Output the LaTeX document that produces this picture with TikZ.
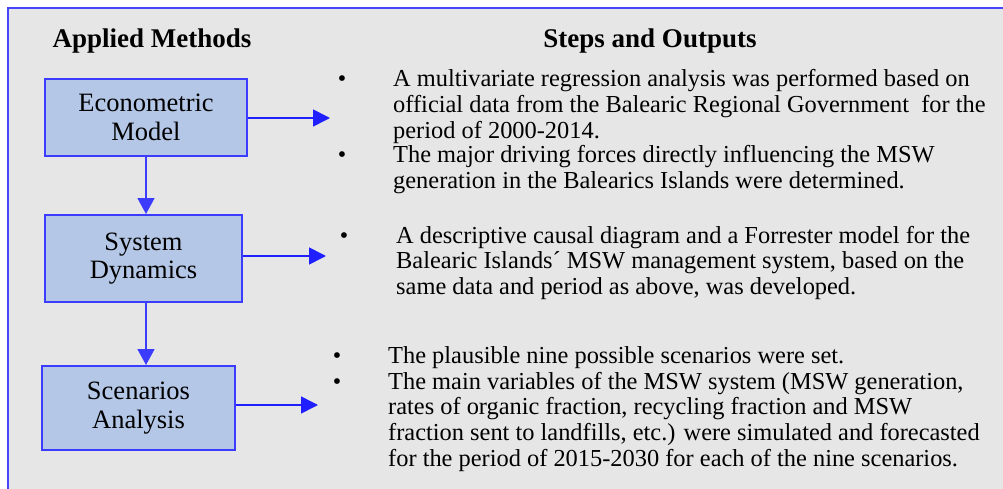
\documentclass[tikz,border=0pt]{standalone}
\usepackage{fontspec}
\setmainfont{Liberation Serif}
\usetikzlibrary{arrows.meta}
\definecolor{bggray}{HTML}{E6E6E6}
\definecolor{boxfill}{HTML}{B4C7E7}
\definecolor{boxline}{HTML}{3C3CFF}
\definecolor{arrblue}{HTML}{1F1FFF}
\definecolor{frameblue}{HTML}{4646FF}
\tikzset{
  methodbox/.style={draw=boxline, line width=2pt, fill=boxfill, align=center,
    font=\fontsize{26.5}{28.5}\selectfont, inner sep=0pt},
  flowarrow/.style={draw=arrblue, line width=1.6pt, -{Triangle[length=17pt,width=17pt]}},
  downarrow/.style={draw=boxline, line width=1.6pt, -{Triangle[length=16pt,width=17pt]}},
  header/.style={font=\fontsize{27}{30}\selectfont\bfseries, anchor=base, inner sep=0pt},
  bulletmark/.style={font=\fontsize{24}{26}\selectfont, anchor=base, inner sep=0pt},
  bodytext/.style={anchor=base west, inner sep=0pt, font=\fontsize{24.4}{25.8}\selectfont}
}
\newcommand{\bodypar}[1]{\parbox[t]{620pt}{\raggedright #1}}
\begin{document}
\begin{tikzpicture}[x=1pt,y=-1pt]
\useasboundingbox (0,0) rectangle (1003,489);
\fill[bggray] (8,8) rectangle (1003,489);
\draw[frameblue, line width=1.5pt] (8,489) -- (8,8) -- (1003,8);

\node[header] (hm) at (152,48) {Applied Methods};
\node[header] (hs) at (650,48) {Steps and Outputs};

\node[methodbox, minimum width=202pt, minimum height=77pt] (em) at (146,117.5) {Econometric\\Model};
\node[methodbox, minimum width=197pt, minimum height=87pt] (sd) at (143.5,258.5) {System\\Dynamics};
\node[methodbox, minimum width=193pt, minimum height=84pt] (sa) at (138.5,408) {Scenarios\\Analysis};

\coordinate (t1) at (330,118);
\coordinate (t2) at (326,256);
\coordinate (t3) at (318,405);
\draw[flowarrow] (em.east |- t1) -- (t1);
\draw[flowarrow] (sd.east |- t2) -- (t2);
\draw[flowarrow] (sa.east |- t3) -- (t3);
\draw[downarrow] (em.south) -- (em.south |- sd.north);
\draw[downarrow] (em.south |- sd.south) -- (em.south |- sa.north);

\node[bulletmark] (b1) at (342,87) {•};
\node[bodytext] (p1) at (393,87) {\bodypar{A multivariate regression analysis was performed based on\\official data from the Balearic Regional Government \ for the\\period of 2000-2014.}};
\node[bulletmark] (b2) at (342,163) {•};
\node[bodytext] (p2) at (393,163) {\bodypar{The major driving forces directly influencing the MSW\\generation in the Balearics Islands were determined.}};

\node[bulletmark] (b3) at (344,243) {•};
\node[bodytext] (p3) at (396,243) {\bodypar{A descriptive causal diagram and a Forrester model for the\\Balearic Islands´ MSW management system, based on the\\same data and period as above, was developed.}};

\node[bulletmark] (b4) at (337,363) {•};
\node[bodytext] (p4) at (388,363) {\bodypar{The plausible nine possible scenarios were set.}};
\node[bulletmark] (b5) at (337,389) {•};
\node[bodytext] (p5) at (388,389) {\bodypar{The main variables of the MSW system (MSW generation,\\rates of organic fraction, recycling fraction and MSW\\fraction sent to landfills, etc.) were simulated and forecasted\\for the period of 2015-2030 for each of the nine scenarios.}};
\end{tikzpicture}
\end{document}
